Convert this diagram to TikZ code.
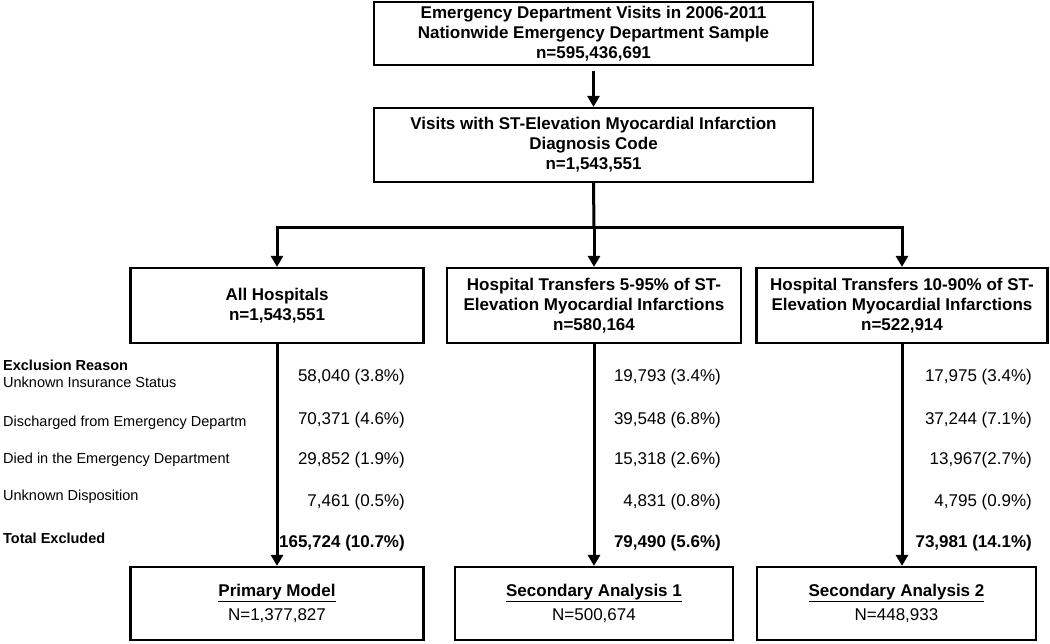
\documentclass[tikz,border=0pt]{standalone}
\usepackage{fontspec}
\setmainfont{Liberation Sans}
\usetikzlibrary{arrows.meta}
\begin{document}
\begin{tikzpicture}[x=1pt,y=-1pt,
  box/.style={draw, line width=2.2pt, align=center, inner sep=0pt, font=\fontsize{17}{20}\selectfont\bfseries},
  conn/.style={line width=3pt},
  arr/.style={line width=3pt, -{Triangle[length=11pt,width=12pt]}},
  lab/.style={anchor=west, inner sep=0pt, font=\fontsize{14.5}{17}\selectfont},
  labb/.style={lab, font=\fontsize{14.5}{17}\selectfont\bfseries},
  num/.style={anchor=east, inner sep=0pt, font=\fontsize{17}{20}\selectfont},
  numb/.style={num, font=\fontsize{17}{20}\selectfont\bfseries}]
\useasboundingbox (0,0) rectangle (1050,643);

% top boxes
\node[box, minimum width=439pt, minimum height=63pt] (top) at (593.5,33.5)
  {Emergency Department Visits in 2006-2011\\Nationwide Emergency Department Sample\\n=595,436,691};
\node[box, minimum width=439pt, minimum height=74pt] (b2) at (593.5,145)
  {Visits with ST-Elevation Myocardial Infarction\\Diagnosis Code\\n=1,543,551};

% hospital boxes
\node[box, minimum width=293pt, minimum height=75pt] (h1) at (277,305.5)
  {All Hospitals\\n=1,543,551};
\node[box, minimum width=294pt, minimum height=75pt] (h2) at (594,305.5)
  {Hospital Transfers 5-95\% of ST-\\Elevation Myocardial Infarctions\\n=580,164};
\node[box, minimum width=291pt, minimum height=75pt] (h3) at (902,305.5)
  {Hospital Transfers 10-90\% of ST-\\Elevation Myocardial Infarctions\\n=522,914};

% final boxes
\node[box, minimum width=293pt, minimum height=73pt] (p1) at (277,603.5)
  {\underline{Primary Model}\\[4pt]\mdseries N=1,377,827};
\node[box, minimum width=278pt, minimum height=73pt] (p2) at (594,603.5)
  {\underline{Secondary Analysis 1}\\[4pt]\mdseries N=500,674};
\node[box, minimum width=279pt, minimum height=73pt] (p3) at (896.5,603.5)
  {\underline{Secondary Analysis 2}\\[4pt]\mdseries N=448,933};

% connectors
\draw[arr] ([yshift=-5pt]top.south) -- (b2.north);
\draw[conn] (b2.south) -- (594,227) coordinate (br);
\draw[arr] (br) -| (h1.north);
\draw[arr] (br) -- (h2.north);
\draw[arr] (br) -| (h3.north);
\draw[arr] (h1.south) -- (p1.north);
\draw[arr] (h2.south) -- (p2.north);
\draw[arr] (h3.south) -- (h3.south |- p3.north);

% exclusion labels
\node[labb] (lx) at (3,365) {Exclusion Reason};
\node[lab] (l1) at (3,382) {Unknown Insurance Status};
\node[lab] (l2) at (3,423) {Discharged from Emergency Departm};
\node[lab] (l3) at (3,460) {Died in the Emergency Department};
\node[lab] (l4) at (3,497) {Unknown Disposition};
\node[labb] (l5) at (3,538) {Total Excluded};

% column 1 numbers
\node[num] (a1) at (405,377) {58,040 (3.8\%)};
\node[num] (a2) at (405,420) {70,371 (4.6\%)};
\node[num] (a3) at (405,460) {29,852 (1.9\%)};
\node[num] (a4) at (405,502) {7,461 (0.5\%)};
\node[numb] (a5) at (405,543) {165,724 (10.7\%)};

% column 2 numbers
\node[num] (b1) at (721,377) {19,793 (3.4\%)};
\node[num] (b2n) at (721,420) {39,548 (6.8\%)};
\node[num] (b3) at (721,460) {15,318 (2.6\%)};
\node[num] (b4) at (721,502) {4,831 (0.8\%)};
\node[numb] (b5) at (721,543) {79,490 (5.6\%)};

% column 3 numbers
\node[num] (c1) at (1032,377) {17,975 (3.4\%)};
\node[num] (c2) at (1032,420) {37,244 (7.1\%)};
\node[num] (c3) at (1032,460) {13,967(2.7\%)};
\node[num] (c4) at (1032,502) {4,795 (0.9\%)};
\node[numb] (c5) at (1032,543) {73,981 (14.1\%)};
\end{tikzpicture}
\end{document}
